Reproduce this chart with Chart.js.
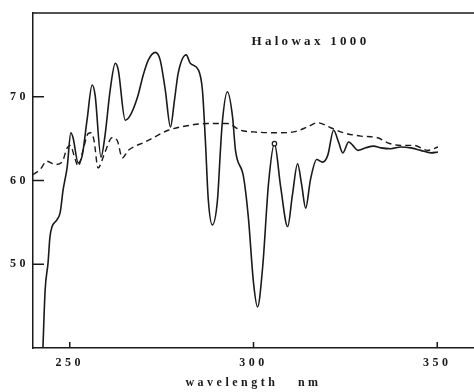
<!DOCTYPE html>
<html>
<head>
<meta charset="utf-8">
<script src="https://cdn.jsdelivr.net/npm/chart.js@4"></script>
<style>
  html, body { margin: 0; padding: 0; background: #fff; }
  #wrap { width: 474px; height: 392px; }
</style>
</head>
<body>
<div id="wrap"><canvas id="spectrum"></canvas></div>
<script>
// wavelength (nm) / value
var solidWl = [242.7, 243.3, 244.1, 244.6, 245.2, 246.5, 247.4, 248.2, 248.7, 249.3, 250.3, 250.9, 252.3, 253.4, 254.7, 256.1, 256.9, 258.5, 259.6, 261.0, 262.4, 263.2, 265.1, 266.5, 268.4, 270.0, 271.4, 273.3, 274.6, 276.0, 277.4, 278.5, 279.5, 281.7, 282.8, 285.0, 286.1, 286.9, 287.7, 288.8, 290.2, 291.0, 291.5, 292.9, 294.3, 295.1, 297.3, 298.6, 300.0, 301.1, 302.5, 304.1, 305.7, 307.4, 309.3, 310.6, 312.0, 313.1, 314.2, 315.5, 317.2, 318.8, 320.2, 321.8, 323.2, 324.3, 325.9, 327.0, 328.4, 330.5, 332.7, 334.6, 337.4, 340.1, 342.8, 345.5, 348.3, 350.2];
var solidVal = [40.0, 46.9, 50.2, 53.2, 54.5, 55.3, 56.2, 58.9, 60.1, 61.6, 65.7, 65.1, 62.1, 63.0, 67.2, 71.4, 70.2, 62.8, 65.4, 70.8, 74.0, 73.2, 67.2, 67.8, 69.9, 72.6, 74.4, 75.3, 74.4, 70.8, 66.4, 69.6, 72.8, 75.0, 74.0, 73.2, 70.8, 64.8, 57.7, 54.7, 57.7, 63.6, 66.9, 70.6, 67.6, 63.6, 60.4, 55.6, 47.8, 44.9, 49.7, 59.7, 64.4, 59.2, 54.5, 58.3, 62.0, 59.5, 56.7, 60.1, 62.5, 62.2, 63.0, 66.0, 64.5, 63.3, 64.6, 64.2, 63.6, 63.9, 64.1, 63.9, 63.8, 64.0, 63.9, 63.6, 63.3, 63.4];
var dashedWl = [240.0, 241.9, 243.8, 246.0, 247.9, 249.3, 250.1, 251.5, 252.3, 253.6, 255.0, 255.8, 256.6, 257.7, 259.6, 261.5, 262.9, 264.3, 265.9, 267.8, 270.0, 272.7, 276.8, 282.8, 287.5, 292.9, 296.5, 300.0, 306.5, 310.9, 314.7, 317.4, 321.0, 324.5, 329.2, 333.8, 336.5, 340.1, 343.6, 347.4, 350.2];
var dashedVal = [60.7, 61.3, 62.3, 61.9, 62.2, 63.9, 64.2, 62.5, 61.7, 63.6, 65.6, 65.7, 64.8, 61.5, 63.4, 65.1, 64.8, 62.7, 63.6, 64.1, 64.5, 65.1, 66.0, 66.6, 66.8, 66.8, 66.0, 65.8, 65.7, 65.8, 66.4, 66.9, 66.3, 65.7, 65.3, 65.1, 64.5, 64.2, 64.2, 63.6, 64.0];
var xTicks = [250, 300, 350];
var yTicks = [50, 60, 70];
var markedWl = 305.7; // small open circle on this peak

function pts(xs, ys) {
    return xs.map(function (x, i) { return { x: x, y: ys[i] }; });
}

var ink = '#1a1a1a';
var serif = '"Liberation Serif", "DejaVu Serif", serif';

// tick marks drawn inward + top frame line + label text
var decor = {
    id: 'decor',
    beforeDraw: function (chart) {
        chart.ctx.letterSpacing = '3.5px';
    },
    afterDraw: function (chart) {
        var ctx = chart.ctx, a = chart.chartArea;
        var xs = chart.scales.x, ys = chart.scales.y;
        ctx.save();
        ctx.strokeStyle = ink;
        ctx.lineWidth = 1.5;
        ctx.beginPath();
        ctx.moveTo(a.left, a.top);
        ctx.lineTo(a.right, a.top);
        yTicks.forEach(function (v) {
            var py = ys.getPixelForValue(v);
            ctx.moveTo(a.left, py);
            ctx.lineTo(a.left + 11, py);
        });
        xTicks.forEach(function (v) {
            var px = xs.getPixelForValue(v);
            ctx.moveTo(px, a.bottom);
            ctx.lineTo(px, a.bottom - 6);
        });
        ctx.stroke();

        ctx.fillStyle = ink;
        ctx.font = 'bold 13px ' + serif;
        ctx.letterSpacing = '3.3px';
        ctx.textAlign = 'center';
        ctx.textBaseline = 'middle';
        ctx.fillText('Halowax 1000', xs.getPixelForValue(315.5), ys.getPixelForValue(76.6));
        ctx.restore();
    }
};

var chart = new Chart(document.getElementById('spectrum'), {
    type: 'line',
    data: {
        datasets: [{
            label: 'solid',
            data: pts(solidWl, solidVal),
            borderColor: ink,
            borderWidth: 1.6,
            cubicInterpolationMode: 'monotone',
            pointRadius: function (c) { return solidWl[c.dataIndex] === markedWl ? 2.2 : 0; },
            pointBackgroundColor: '#fff',
            pointBorderColor: ink,
            pointBorderWidth: 1.2
        }, {
            label: 'dashed',
            data: pts(dashedWl, dashedVal),
            borderColor: ink,
            borderWidth: 1.4,
            borderDash: [6, 4],
            cubicInterpolationMode: 'monotone',
            pointRadius: 0
        }]
    },
    options: {
        responsive: true,
        maintainAspectRatio: false,
        animation: false,
        layout: { padding: { top: 13, right: 0, bottom: 2, left: 0 } },
        plugins: { legend: { display: false }, tooltip: { enabled: false } },
        scales: {
            x: {
                type: 'linear',
                min: 240, max: 360,
                afterBuildTicks: function (s) { s.ticks = xTicks.map(function (v) { return { value: v }; }); },
                afterFit: function (s) { s.height = 42; },
                grid: { display: false, drawTicks: false },
                border: { display: true, color: ink, width: 1.5 },
                ticks: {
                    color: ink, padding: 8, maxRotation: 0,
                    font: { family: serif, size: 12, weight: 'bold' }
                },
                title: {
                    display: true, text: 'wavelength   nm', color: ink,
                    padding: { top: 0, bottom: 0 },
                    font: { family: serif, size: 12, weight: 'bold' }
                }
            },
            y: {
                min: 40, max: 80,
                afterBuildTicks: function (s) { s.ticks = yTicks.map(function (v) { return { value: v }; }); },
                afterFit: function (s) { s.width = 33; },
                grid: { display: false, drawTicks: false },
                border: { display: true, color: ink, width: 1.5 },
                ticks: {
                    color: ink, padding: 4,
                    font: { family: serif, size: 12, weight: 'bold' }
                }
            }
        }
    },
    plugins: [decor]
});
</script>
</body>
</html>
